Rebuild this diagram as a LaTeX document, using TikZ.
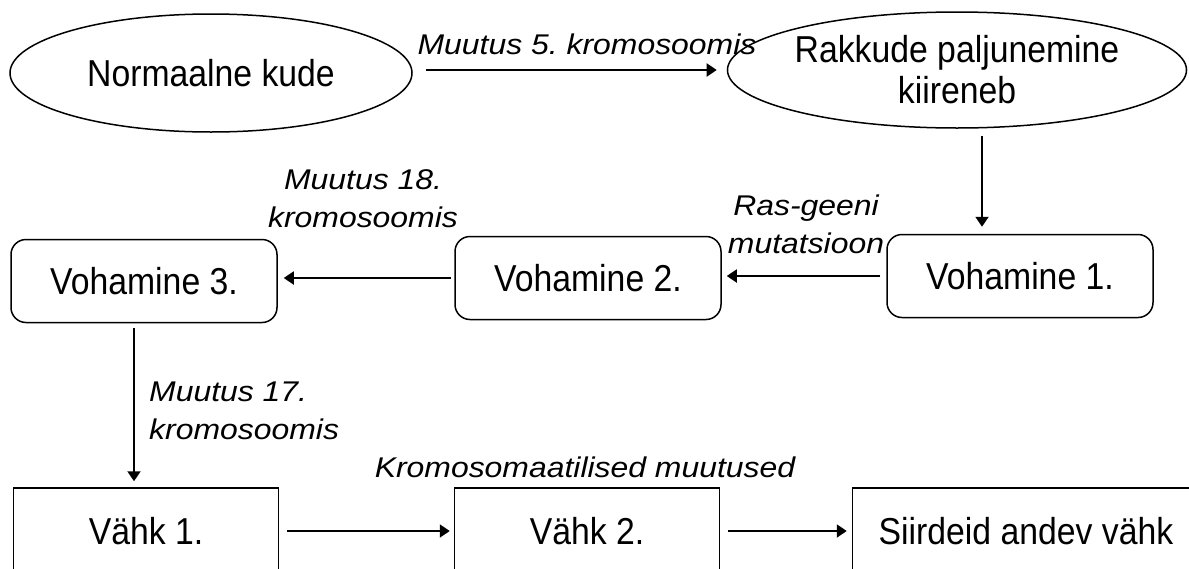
\documentclass[tikz,border=0pt]{standalone}
\usepackage{fontspec}
\setmainfont{Liberation Sans}[FakeStretch=0.9]
\newfontfamily\lblfont{Liberation Sans}[FakeStretch=1.12]
\usetikzlibrary{positioning,shapes.geometric,arrows.meta}
\frenchspacing

\begin{document}
\begin{tikzpicture}[x=1pt,y=-1pt,stage/.style={draw, line width=1.5pt, font=\fontsize{37.5}{41}\selectfont, align=center, inner sep=0pt},oval/.style={stage, ellipse, minimum width=402pt, minimum height=118pt},soft/.style={stage, rectangle, rounded corners=15pt, minimum width=266pt, minimum height=83pt},hard/.style={stage, rectangle, minimum width=265pt, minimum height=86pt},conn/.style={line width=1.9pt, -{Triangle[length=10pt,width=13pt]}},lbl/.style={font=\lblfont\itshape\fontsize{28.5}{38}\selectfont, align=center, inner sep=0pt}]
\useasboundingbox (0,0) rectangle (1189,568);
\clip (0,0) rectangle (1189,568);
\node[oval] (normal) at (211,73) {Normaalne kude};
\node[oval, minimum width=401pt, minimum height=116pt] (growth) at (957,70) {Rakkude paljunemine\\kiireneb};
\node[soft] (voh1) at (1020,276) {Vohamine 1.};
\node[soft] (voh2) at (588,278) {Vohamine 2.};
\node[soft] (voh3) at (144,281) {Vohamine 3.};
\node[hard] (cancer1) at (146,531) {Vähk 1.};
\node[hard] (cancer2) at (587,531) {Vähk 2.};
\node[hard, minimum width=347pt] (meta) at (1026,531) {Siirdeid andev vähk};
\draw[conn, shorten <=13pt, shorten >=10pt] ([yshift=3pt]normal.east) -- (growth.west);
\draw[conn, shorten <=7pt, shorten >=7pt] ([xshift=25pt]growth.south) -- ([xshift=-38pt]voh1.north);
\draw[conn, shorten <=6pt, shorten >=5pt] (voh1.west) -- (voh1.west -| voh2.east);
\draw[conn, shorten <=3pt, shorten >=6pt] (voh2.west) -- (voh2.west -| voh3.east);
\draw[conn, shorten <=5pt, shorten >=6pt] ([xshift=-10pt]voh3.south) -- ([xshift=-10pt]voh3.south |- cancer1.north);
\draw[conn, shorten <=8pt, shorten >=4pt] (cancer1.east) -- (cancer2.west);
\draw[conn, shorten <=8pt, shorten >=5pt] (cancer2.east) -- (meta.west);
\node[lbl] (l5) at (587,44) {Muutus 5. kromosoomis};
\node[lbl] (l18) at (363,199) {Muutus 18.\\kromosoomis};
\node[lbl] (lras) at (806,224) {Ras-geeni\\mutatsioon};
\node[lbl, anchor=west, align=left] (l17) at (149,411) {Muutus 17.\\kromosoomis};
\node[lbl] (lchrom) at (585,467) {Kromosomaatilised muutused};
\end{tikzpicture}
\end{document}
